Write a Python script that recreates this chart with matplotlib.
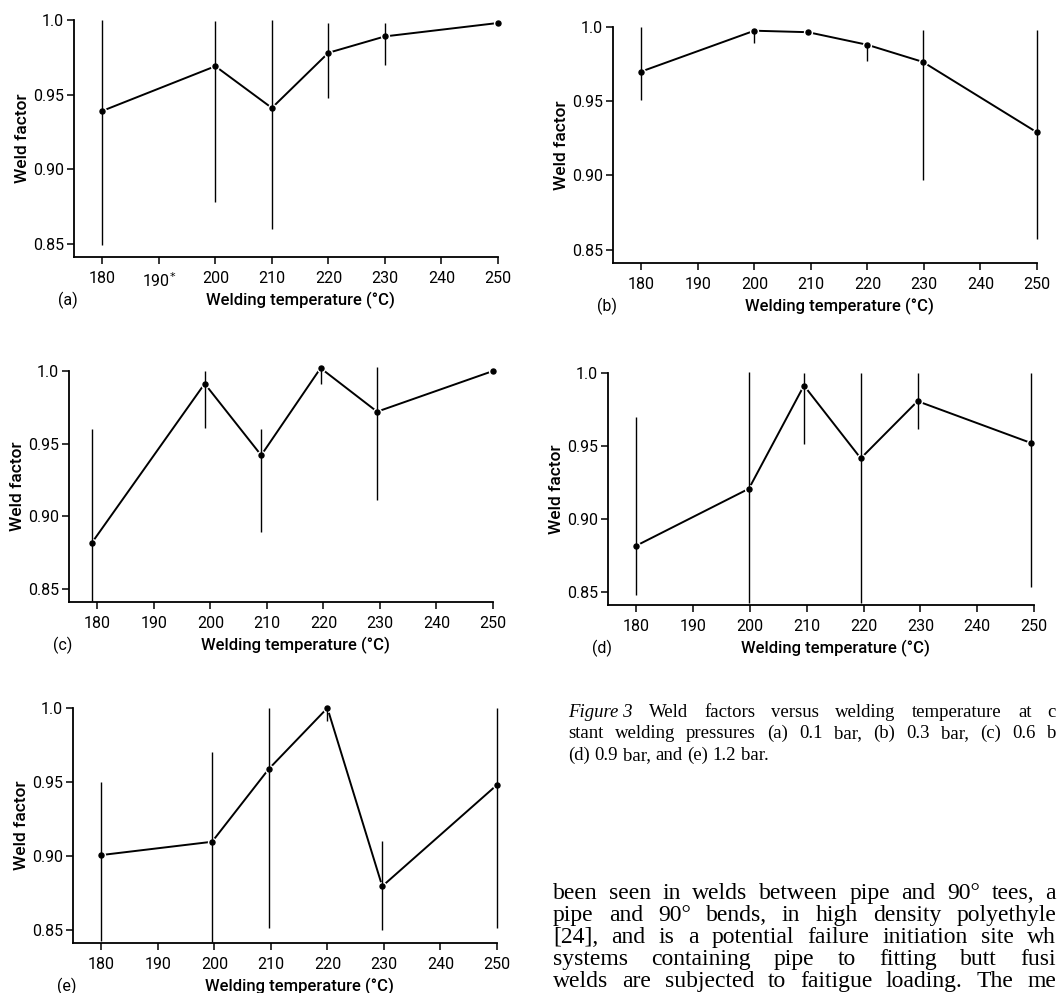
import matplotlib.pyplot as plt

plt.rcParams['font.family'] = ['Roboto', 'DejaVu Sans']

# welding temperature (deg C) and weld factor
temps_a = [180, 200, 210, 220, 230, 250]
weld_a = [0.939, 0.969, 0.941, 0.978, 0.989, 0.998]
low_a = [0.849, 0.878, 0.860, 0.948, 0.970, 0.998]
high_a = [1.000, 0.999, 1.000, 0.998, 0.998, 0.998]

temps_b = [180, 200, 209.5, 220, 229.8, 250]
weld_b = [0.970, 0.9975, 0.9965, 0.988, 0.9765, 0.929]
low_b = [0.9505, 0.989, 0.9965, 0.977, 0.897, 0.857]
high_b = [1.000, 0.998, 0.9965, 0.989, 0.998, 0.998]

temps_c = [179, 199, 209, 219.5, 229.5, 250]
weld_c = [0.8815, 0.9913, 0.942, 1.002, 0.972, 1.000]
low_c = [0.8415, 0.961, 0.8895, 0.991, 0.911, 1.000]
high_c = [0.9604, 1.000, 0.960, 1.002, 1.003, 1.000]

temps_d = [180, 199.8, 209.5, 219.5, 229.5, 249.5]
weld_d = [0.8817, 0.9207, 0.9914, 0.9415, 0.9807, 0.952]
low_d = [0.848, 0.8425, 0.951, 0.8425, 0.9615, 0.853]
high_d = [0.970, 1.001, 1.000, 1.000, 1.000, 1.000]

temps_e = [180, 199.6, 209.6, 220, 229.7, 250]
weld_e = [0.9005, 0.9095, 0.9586, 1.000, 0.8794, 0.948]
low_e = [0.8425, 0.8416, 0.851, 0.991, 0.850, 0.851]
high_e = [0.9496, 0.970, 1.000, 1.000, 0.910, 1.000]

x_ticks = [180, 190, 200, 210, 220, 230, 240, 250]
x_tick_labels = ['180', '190', '200', '210', '220', '230', '240', '250']
x_tick_labels_a = ['180', '190$^{*}$', '200', '210', '220', '230', '240', '250']
y_ticks = [0.85, 0.90, 0.95, 1.0]
y_tick_labels = ['0.85', '0.90', '0.95', '1.0']

caption_lines = [
    [('Figure 3', 'italic'), ('Weld', 'normal'), ('factors', 'normal'), ('versus', 'normal'),
     ('welding', 'normal'), ('temperature', 'normal'), ('at', 'normal'), ('c', 'normal')],
    [('stant', 'normal'), ('welding', 'normal'), ('pressures', 'normal'), ('(a)', 'normal'),
     ('0.1', 'normal'), ('bar,', 'normal'), ('(b)', 'normal'), ('0.3', 'normal'),
     ('bar,', 'normal'), ('(c)', 'normal'), ('0.6', 'normal'), ('b', 'normal')],
    [('(d)', 'normal'), ('0.9', 'normal'), ('bar,', 'normal'), ('and', 'normal'),
     ('(e)', 'normal'), ('1.2', 'normal'), ('bar.', 'normal')],
]
body_lines = [
    'been seen in welds between pipe and 90° tees, a',
    'pipe and 90° bends, in high density polyethyle',
    '[24], and is a potential failure initiation site wh',
    'systems containing pipe to fitting butt fusi',
    'welds are subjected to faitigue loading. The me',
]

W, H = 1059, 993
fig = plt.figure(figsize=(W / 100, H / 100), dpi=100)


def draw_panel(box, temps, weld, low, high, name, xlabels):
    # box = (left, top, right, bottom) in pixels
    l, t, r, b = box
    ax = fig.add_axes([l / W, 1 - b / H, (r - l) / W, (b - t) / H])
    ax.plot(temps, weld, color='k', lw=1.4, marker='o', ms=4.5, mfc='k',
            mec='white', mew=2.2, zorder=2, clip_on=False)
    ax.vlines(temps, low, high, color='k', lw=1.0, zorder=3, clip_on=False)
    ax.plot(temps, weld, 'o', color='k', ms=3.6, zorder=4, clip_on=False)
    ax.set_xlim(175, 250)
    ax.set_ylim(0.841, 1.0)
    for s in ['top', 'right']:
        ax.spines[s].set_visible(False)
    ax.spines['left'].set_linewidth(1.3)
    ax.spines['bottom'].set_linewidth(1.3)
    ax.set_xticks(x_ticks)
    ax.set_xticklabels(xlabels)
    ax.set_yticks(y_ticks)
    ax.set_yticklabels(y_tick_labels)
    ax.tick_params(axis='x', direction='out', length=5, width=1.1, pad=5, labelsize=11.5)
    ax.tick_params(axis='y', direction='out', length=5, width=1.1, pad=2, labelsize=11.5)
    ax.set_ylabel('Weld factor', fontsize=12.5, fontweight='medium', labelpad=2)
    hpx = b - t
    ax.text(0.535, -43 / hpx, 'Welding temperature (°C)', transform=ax.transAxes,
            ha='center', va='center', fontsize=12, fontweight='medium')
    ax.text(-0.015, -43 / hpx, name, transform=ax.transAxes,
            ha='center', va='center', fontsize=11.5)
    return ax


draw_panel((74, 20, 498, 257), temps_a, weld_a, low_a, high_a, '(a)', x_tick_labels_a)
draw_panel((613, 27, 1037, 263), temps_b, weld_b, low_b, high_b, '(b)', x_tick_labels)
draw_panel((69, 371, 493, 602), temps_c, weld_c, low_c, high_c, '(c)', x_tick_labels)
draw_panel((608, 373, 1034, 605), temps_d, weld_d, low_d, high_d, '(d)', x_tick_labels)
draw_panel((73, 708, 497, 943), temps_e, weld_e, low_e, high_e, '(e)', x_tick_labels)

# ---- justified text block next to panel (e), running to the right edge ----
renderer = fig.canvas.get_renderer()
SERIF = 'Liberation Serif'


def word_widths(words, size):
    out = []
    for txt, style in words:
        a = fig.text(0, 0, txt, fontsize=size, style=style, family=SERIF)
        out.append(a.get_window_extent(renderer=renderer).width)
        a.remove()
    return out


def word_xs(widths, x0, right, size):
    if right is None:
        gap = 0.25 * size * 100 / 72
    else:
        gap = (right - x0 - sum(widths)) / (len(widths) - 1)
    xs, x = [], x0
    for w in widths:
        xs.append(x)
        x += w + gap
    return xs


def fit_x0(lines, rights, size, anchors):
    # left margin that puts the words seen near x=650 in the scan where they are
    ws = [word_widths(w, size) for w in lines]
    best = None
    for x0 in range(520, 660):
        err = 0
        for (li, wi, tx) in anchors:
            err += (word_xs(ws[li], x0, rights[li], size)[wi] - tx) ** 2
        if best is None or err < best[0]:
            best = (err, x0)
    return best[1]


def put_block(lines, rights, baselines, size, x0):
    for words, rr, y in zip(lines, rights, baselines):
        ws = word_widths(words, size)
        for (txt, style), x in zip(words, word_xs(ws, x0, rr, size)):
            fig.text(x / W, 1 - y / H, txt, fontsize=size, style=style,
                     family=SERIF, va='baseline', ha='left')


cap_rights = [1056, 1056, None]
cap_size = 13.5
cap_x0 = fit_x0(caption_lines, cap_rights, cap_size,
                [(0, 1, 645), (1, 1, 614), (2, 3, 658)])
put_block(caption_lines, cap_rights, [717, 738, 760], cap_size, cap_x0)

body_words = [[(w, 'normal') for w in line.split(' ')] for line in body_lines]
body_rights = [1056] * 5
body_size = 17
body_x0 = fit_x0(body_words, body_rights, body_size,
                 [(0, 2, 662), (1, 2, 658), (2, 2, 660), (3, 1, 654), (4, 2, 662)])
put_block(body_words, body_rights, [899, 921, 943, 965, 987], body_size, body_x0)

fig.savefig('out.png', dpi=100)
